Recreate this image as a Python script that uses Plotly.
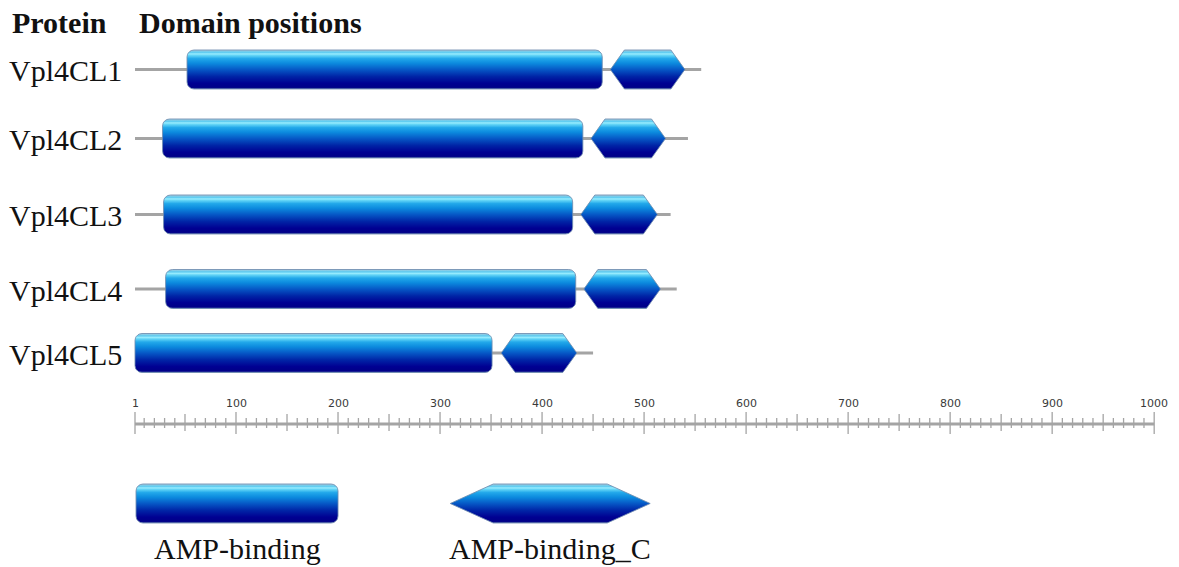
import math
import plotly.graph_objects as go

# ---- data -------------------------------------------------------------
proteins = ["Vpl4CL1", "Vpl4CL2", "Vpl4CL3", "Vpl4CL4", "Vpl4CL5"]
protein_length = [556, 543, 526, 532, 450]
amp_start = [52, 28, 29, 31, 1]
amp_end = [459, 440, 430, 433, 351]
ampc_start = [467, 448, 438, 441, 360]
ampc_end = [540, 521, 513, 516, 434]
scale_ticks = [1, 100, 200, 300, 400, 500, 600, 700, 800, 900, 1000]
domain_names = ["AMP-binding", "AMP-binding_C"]

# ---- layout constants (pixels) ---------------------------------------
W, H = 1179, 567
PX_PER_AA = 1.0202
X0_PX = 133.98                     # pixel column of residue 0
ROW_Y = [69.5, 138.5, 214.5, 289, 353]
HALF_H = 19.5
RADIUS_PX = 7
HEX_PX = 14
RULER_Y = 424
LEGEND_Y = 503.5
LEGEND_RECT = (2, 200)
LEGEND_HEX = (310, 506)
LEGEND_HEX_PX = 43

GRADIENT = [
    [0.00, "#4a5aa8"],
    [0.04, "#000088"],
    [0.15, "#000092"],
    [0.32, "#0024a6"],
    [0.50, "#0658c6"],
    [0.66, "#0c8ade"],
    [0.78, "#22a8ea"],
    [0.86, "#62d4f6"],
    [0.90, "#98ecfe"],
    [0.94, "#5ccaf0"],
    [1.00, "#a6cfe0"],
]
OUTLINE = "rgba(110,140,175,0.85)"
GREY = "#a4a4a4"
SERIF = "Liberation Serif"


def y_of(py):
    return H - py


def px_to_aa(px):
    return px / PX_PER_AA


def rounded_rect(x0, x1, yc, hh):
    rx = px_to_aa(RADIUS_PX)
    ry = RADIUS_PX
    yt, yb = y_of(yc - hh), y_of(yc + hh)
    corners = [
        (x1 - rx, yt - ry, 0, 90),
        (x0 + rx, yt - ry, 90, 180),
        (x0 + rx, yb + ry, 180, 270),
        (x1 - rx, yb + ry, 270, 360),
    ]
    xs, ys = [], []
    for cx, cy, a0, a1 in corners:
        for k in range(9):
            a = math.radians(a0 + (a1 - a0) * k / 8)
            xs.append(cx + rx * math.cos(a))
            ys.append(cy + ry * math.sin(a))
    xs.append(xs[0])
    ys.append(ys[0])
    return xs, ys


def hexagon(x0, x1, yc, hh, slope_px):
    d = px_to_aa(slope_px)
    yt, ym, yb = y_of(yc - hh), y_of(yc), y_of(yc + hh)
    xs = [x0, x0 + d, x1 - d, x1, x1 - d, x0 + d, x0]
    ys = [ym, yt, yt, ym, yb, yb, ym]
    return xs, ys


def domain_trace(xs, ys):
    return go.Scatter(
        x=xs, y=ys, mode="lines", fill="toself",
        fillgradient=dict(type="vertical", colorscale=GRADIENT),
        line=dict(color=OUTLINE, width=1),
        hoverinfo="skip", showlegend=False,
    )


fig = go.Figure()

# protein backbones
for i, name in enumerate(proteins):
    fig.add_trace(go.Scatter(
        x=[1, protein_length[i]], y=[y_of(ROW_Y[i])] * 2, mode="lines",
        line=dict(color=GREY, width=3), hoverinfo="skip", showlegend=False,
    ))

# domains
for i in range(len(proteins)):
    fig.add_trace(domain_trace(*rounded_rect(amp_start[i], amp_end[i], ROW_Y[i], HALF_H)))
    fig.add_trace(domain_trace(*hexagon(ampc_start[i], ampc_end[i], ROW_Y[i], HALF_H, HEX_PX)))

# ruler
fig.add_trace(go.Scatter(
    x=[scale_ticks[0], scale_ticks[-1]], y=[y_of(RULER_Y)] * 2, mode="lines",
    line=dict(color=GREY, width=3), hoverinfo="skip", showlegend=False,
))
tx, ty = [], []
for v in range(0, scale_ticks[-1] + 1, 10):
    pos = max(v, 1)
    if v % 100 == 0:
        a, b = RULER_Y - 12, RULER_Y + 10
    elif v % 50 == 0:
        a, b = RULER_Y - 10, RULER_Y + 7
    else:
        a, b = RULER_Y - 6, RULER_Y + 4
    tx += [pos, pos, None]
    ty += [y_of(a), y_of(b), None]
fig.add_trace(go.Scatter(
    x=tx, y=ty, mode="lines", line=dict(color=GREY, width=1.3),
    hoverinfo="skip", showlegend=False,
))
for v in scale_ticks:
    fig.add_annotation(
        x=v, y=y_of(RULER_Y - 21), text=str(v), showarrow=False,
        font=dict(family="DejaVu Sans", size=11, color="#3a3a3a"),
        xanchor="center", yanchor="middle",
    )

# legend glyphs
fig.add_trace(domain_trace(*rounded_rect(LEGEND_RECT[0], LEGEND_RECT[1], LEGEND_Y, HALF_H)))
fig.add_trace(domain_trace(*hexagon(LEGEND_HEX[0], LEGEND_HEX[1], LEGEND_Y, HALF_H, LEGEND_HEX_PX)))
for (a, b), label in zip([LEGEND_RECT, LEGEND_HEX], domain_names):
    fig.add_annotation(
        x=(a + b) / 2, y=y_of(548), text=label, showarrow=False,
        font=dict(family=SERIF, size=30, color="#111"),
        xanchor="center", yanchor="middle",
    )

# row labels
for i, name in enumerate(proteins):
    fig.add_annotation(
        x=px_to_aa(124 - X0_PX), y=y_of(ROW_Y[i] + 1), text=name, showarrow=False,
        font=dict(family=SERIF, size=30, color="#111"),
        xanchor="right", yanchor="middle",
    )

# header
for px, text in [(10, "Protein"), (137, "Domain positions")]:
    fig.add_annotation(
        x=px_to_aa(px - X0_PX), y=y_of(22), text=f"<b>{text}</b>", showarrow=False,
        font=dict(family=SERIF, size=30, color="#111"),
        xanchor="left", yanchor="middle",
    )

fig.update_layout(
    width=W, height=H,
    margin=dict(l=0, r=0, t=0, b=0),
    paper_bgcolor="white", plot_bgcolor="white",
    xaxis=dict(range=[px_to_aa(-X0_PX), px_to_aa(W - X0_PX)], visible=False, fixedrange=True),
    yaxis=dict(range=[0, H], visible=False, fixedrange=True),
    showlegend=False,
)

fig.write_html("out.html")
